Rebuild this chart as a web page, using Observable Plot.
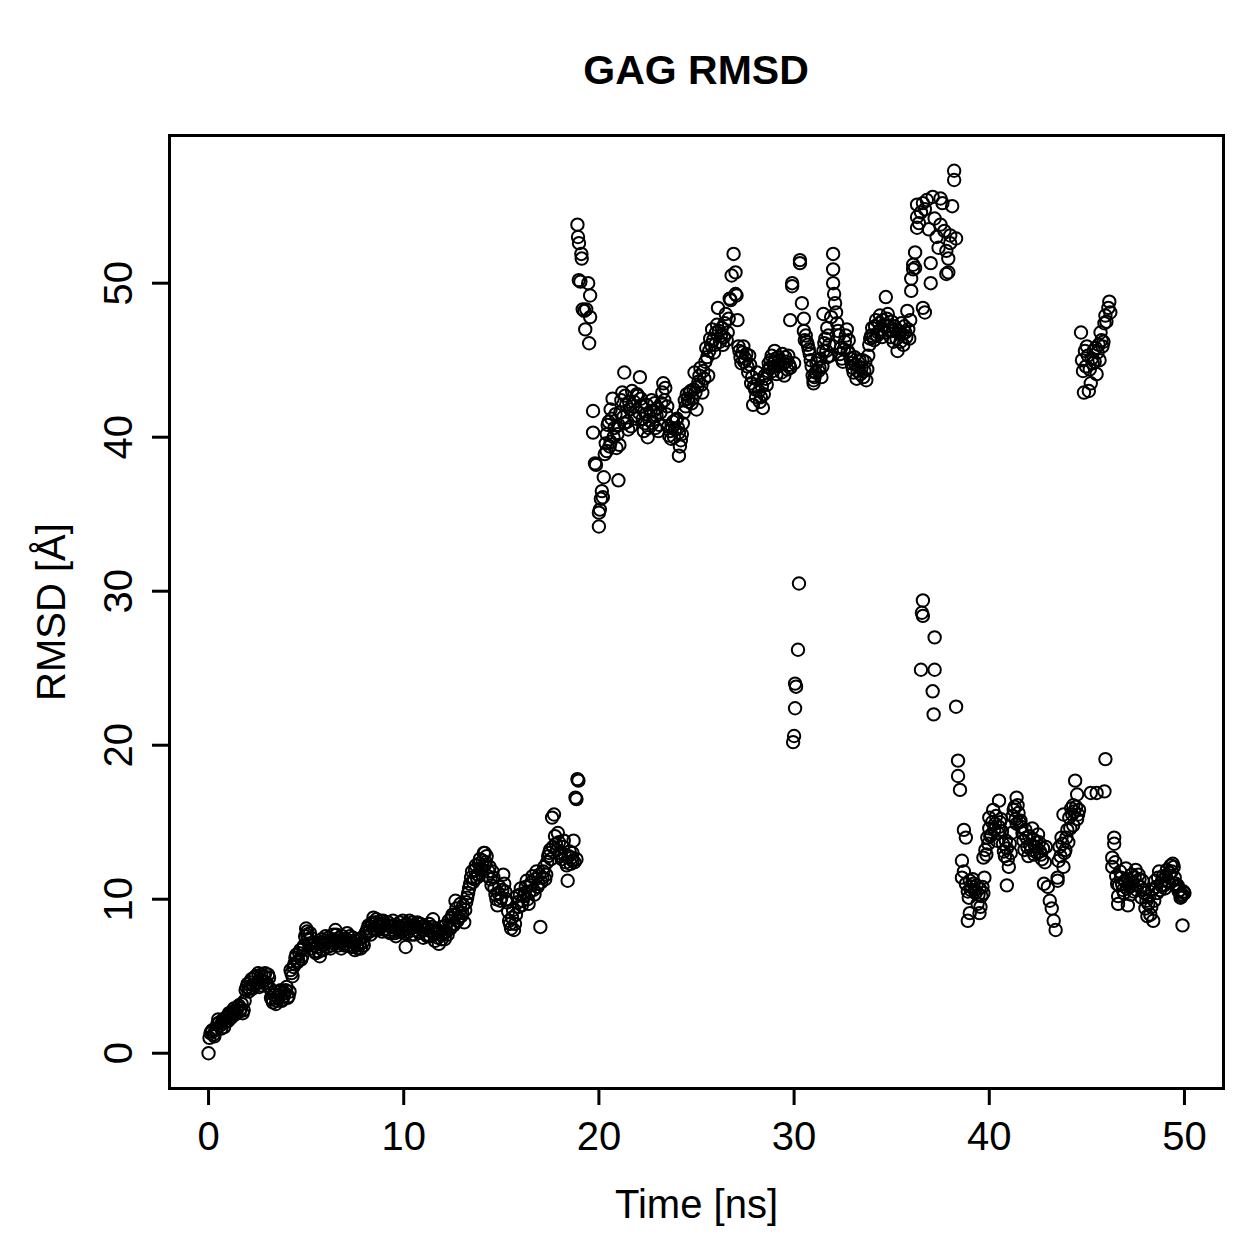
<!DOCTYPE html>
<html>
<head>
<meta charset="utf-8">
<script src="https://cdn.jsdelivr.net/npm/d3@7"></script>
<script src="https://cdn.jsdelivr.net/npm/@observablehq/plot@0.6"></script>
<style>
  body { margin: 0; background: #fff; font-family: "Liberation Sans", Arial, Helvetica, sans-serif; }
  #wrap { position: relative; width: 1259px; height: 1259px; }
  #head { position: relative; height: 120px; }
  #title { position: absolute; left: 169px; width: 1054px; top: 50px; text-align: center;
           font-weight: bold; font-size: 41px; line-height: 41px; color: #000; }
</style>
</head>
<body>
<div id="wrap">
  <div id="head"><div id="title">GAG RMSD</div></div>
  <div id="chart"></div>
</div>
<script>
// Axis ticks
const xTicks = [0, 10, 20, 30, 40, 50];
const yTicks = [0, 10, 20, 30, 40, 50];

// [time (ns), RMSD (Å)] — bound state, first 19 ns
const lowEarly = [
  [0.0,0.0],[0.1,1.3],[0.2,1.5],[0.3,1.1],[0.4,1.6],[0.5,2.2],[0.6,1.8],[0.7,2.0],[0.8,1.7],[0.9,2.3],
  [1.0,2.1],[1.1,2.5],[1.2,2.4],[1.3,2.9],[1.4,2.6],[1.5,3.0],[1.6,2.7],[1.7,3.2],[1.8,2.8],[1.9,4.1],
  [2.0,4.5],[2.1,4.2],[2.2,4.8],[2.3,4.4],[2.4,5.0],[2.5,4.6],[2.6,4.3],[2.7,5.1],[2.8,4.7],[2.9,5.2],
  [3.0,4.4],[3.1,4.9],[3.2,3.6],[3.3,3.3],[3.4,4.0],[3.5,3.4],[3.6,3.8],[3.7,4.1],[3.8,3.5],[3.9,3.9],
  [4.0,4.3],[4.1,3.7],[4.2,5.4],[4.3,5.0],[4.4,5.8],[4.5,6.4],[4.6,6.0],[4.7,6.7],[4.8,6.3],[4.9,7.0],
  [5.0,8.1],[5.1,7.4],[5.2,7.8],[5.3,6.8],[5.4,7.2],[5.5,6.5],[5.6,7.1],[5.7,6.3],[5.8,7.4],[5.9,7.0],
  [6.0,7.6],[6.1,6.9],[6.2,7.3],[6.3,7.0],[6.4,7.7],[6.5,8.0],[6.6,7.2],[6.7,7.5],[6.8,6.8],[6.9,7.4],
  [7.0,7.1],[7.1,7.8],[7.2,7.3],[7.3,6.9],[7.4,7.5],[7.5,6.7],[7.6,7.0],[7.7,7.4],[7.8,6.8],[7.9,7.2],
  [8.0,7.6],[8.1,7.9],[8.2,8.3],[8.3,7.7],[8.4,8.5],[8.5,8.0],[8.6,8.7],[8.7,8.2],[8.8,8.6],[8.9,7.9],
  [9.0,8.4],[9.1,8.1],[9.2,8.5],[9.3,7.8],[9.4,8.3],[9.5,8.0],[9.6,7.6],[9.7,8.2],[9.8,8.5],[9.9,7.9],
  [10.0,8.3],[10.1,6.9],[10.2,8.1],[10.3,8.6],[10.4,7.7],[10.5,8.3],[10.6,8.0],[10.7,8.5],[10.8,7.8],[10.9,8.2],
  [11.0,7.5],[11.1,8.0],[11.2,7.6],[11.3,8.4],[11.4,7.9],[11.5,8.7],[11.6,7.3],[11.7,7.9],[11.8,7.1],[11.9,7.7],
  [12.0,8.2],[12.1,7.4],[12.2,7.9],[12.3,8.6],[12.4,8.1],[12.5,9.0],[12.6,8.4],[12.7,9.4],[12.8,8.8],[12.9,9.7],
  [13.0,9.1],[13.1,8.5],[13.2,9.8],[13.3,10.4],[13.4,11.0],[13.5,11.8],[13.6,11.3],[13.7,12.2],[13.8,11.6],[13.9,12.6],
  [14.0,11.9],[14.1,13.0],[14.2,12.4],[14.3,11.5],[14.4,12.1],[14.5,10.9],[14.6,11.4],[14.7,10.3],[14.8,9.6],[14.9,10.8],
  [15.0,10.1],[15.1,11.6],[15.2,10.5],[15.3,9.8],[15.4,8.6],[15.5,8.1],[15.6,9.3],[15.7,8.4],[15.8,10.2],[15.9,9.5],
  [16.0,10.7],[16.1,9.9],[16.2,10.4],[16.3,11.2],[16.4,9.7],[16.5,10.9],[16.6,11.5],[16.7,10.3],[16.8,11.8],[16.9,11.0],
  [17.0,8.2],[17.1,11.4],[17.2,12.1],[17.3,11.6],[17.4,12.8],[17.5,13.2],[17.6,15.3],[17.7,15.5],[17.8,13.6],[17.9,14.3],
  [18.0,13.0],[18.1,12.6],[18.2,13.8],[18.3,12.4],[18.4,11.2],[18.5,13.1],[18.6,12.7],[18.7,13.8],[18.8,16.6],[18.9,17.8],
  [18.85,16.5],[18.95,17.7],[18.75,12.4],[18.65,12.5],[14.15,13.0],[5.05,7.9],[8.45,8.8],[12.65,9.9]
];

// Interleaved frames of the bound state, first 19 ns
const lowEarlyB = [
  [0.05,1.0],[0.15,1.4],[0.25,1.2],[0.35,1.5],[0.45,1.9],[0.55,2.0],[0.65,1.6],[0.75,2.2],[0.85,2.0],[0.95,2.4],
  [1.05,2.6],[1.15,2.3],[1.25,2.7],[1.35,2.5],[1.45,2.8],[1.55,3.1],[1.65,2.9],[1.75,2.6],[1.85,3.4],[1.95,4.3],
  [2.05,4.0],[2.15,4.6],[2.25,4.2],[2.35,4.9],[2.45,4.5],[2.55,5.2],[2.65,4.8],[2.75,4.4],[2.85,5.0],[2.95,4.6],
  [3.05,5.1],[3.15,4.2],[3.25,3.5],[3.35,3.8],[3.45,3.2],[3.55,3.6],[3.65,4.0],[3.75,3.4],[3.85,3.7],[3.95,4.1],
  [4.05,3.6],[4.15,4.0],[4.25,5.2],[4.35,5.6],[4.45,6.2],[4.55,5.9],[4.65,6.5],[4.75,6.1],[4.85,6.8],[4.95,7.6],
  [5.05,7.7],[5.15,7.1],[5.25,7.5],[5.35,7.0],[5.45,6.6],[5.55,6.9],[5.65,6.6],[5.75,7.2],[5.85,6.7],[5.95,7.3],
  [6.05,7.2],[6.15,7.5],[6.25,6.8],[6.35,7.4],[6.45,7.1],[6.55,7.7],[6.65,7.0],[6.75,7.3],[6.85,7.6],[6.95,7.0],
  [7.05,7.4],[7.15,7.0],[7.25,7.6],[7.35,7.2],[7.45,6.9],[7.55,7.3],[7.65,6.8],[7.75,7.1],[7.85,7.5],[7.95,7.0],
  [8.05,7.8],[8.15,8.1],[8.25,7.9],[8.35,8.4],[8.45,8.1],[8.55,8.5],[8.65,8.0],[8.75,8.4],[8.85,8.2],[8.95,8.6],
  [9.05,8.0],[9.15,8.3],[9.25,7.9],[9.35,8.2],[9.45,8.6],[9.55,7.8],[9.65,8.1],[9.75,7.9],[9.85,8.2],[9.95,8.6],
  [10.05,7.8],[10.15,8.4],[10.25,7.9],[10.35,8.2],[10.45,8.5],[10.55,7.7],[10.65,8.2],[10.75,7.9],[10.85,8.4],[10.95,8.0],
  [11.05,8.3],[11.15,7.7],[11.25,8.1],[11.35,7.6],[11.45,8.2],[11.55,7.8],[11.65,8.1],[11.75,7.5],[11.85,7.9],[11.95,7.4],
  [12.05,7.8],[12.15,8.3],[12.25,7.7],[12.35,8.2],[12.45,8.8],[12.55,8.3],[12.65,9.0],[12.75,8.6],[12.85,9.2],[12.95,8.9],
  [13.05,9.6],[13.15,9.3],[13.25,10.1],[13.35,10.7],[13.45,11.4],[13.55,11.1],[13.65,11.9],[13.75,11.4],[13.85,12.3],[13.95,12.0],
  [14.05,12.5],[14.15,12.2],[14.25,12.8],[14.35,11.8],[14.45,11.3],[14.55,11.8],[14.65,10.7],[14.75,10.0],[14.85,10.4],[14.95,9.9],
  [15.05,10.6],[15.15,11.0],[15.25,10.0],[15.35,9.2],[15.45,8.4],[15.55,8.8],[15.65,8.0],[15.75,9.0],[15.85,9.8],[15.95,10.3],
  [16.05,9.6],[16.15,10.2],[16.25,10.8],[16.35,10.0],[16.45,10.5],[16.55,11.1],[16.65,10.6],[16.75,11.3],[16.85,10.8],[16.95,11.6],
  [17.05,11.1],[17.15,11.8],[17.25,11.3],[17.35,12.4],[17.45,13.0],[17.55,12.6],[17.65,13.4],[17.75,14.1],[17.85,13.2],[17.95,13.7],
  [18.05,12.8],[18.15,13.4],[18.25,12.9],[18.35,12.2],[18.45,12.8],[18.55,12.3],[18.65,13.0],[18.85,12.6]
];

// Dissociated state, 19–38.3 ns
const highMid = [
  [18.9,53.8],[18.93,53.0],[18.98,52.6],[19.1,51.9],[19.12,51.6],[18.97,50.2],[19.05,50.1],[19.45,50.0],
  [19.55,49.2],[19.17,48.3],[19.25,48.2],[19.35,48.3],[19.55,47.8],[19.3,47.0],[19.5,46.1],
  [19.7,41.7],[19.7,40.3],[19.8,38.3],[19.85,38.2],[20.15,36.5],[20.2,36.1],[20.05,35.3],[20.0,34.2],
  [20.1,36.0],[20.25,37.4],[20.0,35.1],
  [20.3,38.9],[20.4,40.2],[20.4,39.1],[20.5,41.0],[20.6,41.8],[20.6,39.7],[20.7,42.5],[20.8,40.6],[20.9,39.3],
  [21.0,37.2],[21.0,40.8],[21.1,41.6],[21.2,42.9],[21.3,44.2],[21.3,40.9],[21.4,42.1],[21.5,40.5],[21.6,41.8],
  [21.7,43.0],[21.8,42.3],[21.9,41.2],[22.0,42.7],[22.1,43.9],[22.2,42.0],[22.3,40.4],[22.4,41.5],[22.5,40.0],
  [22.6,41.1],[22.7,42.4],[22.8,41.7],[22.9,40.6],[23.0,41.9],[23.1,40.8],[23.2,42.2],[23.3,43.5],[23.4,43.2],
  [23.5,42.0],[23.6,40.1],[23.7,39.9],[23.8,41.0],[23.9,40.5],[24.0,41.2],[24.1,38.8],[24.1,40.3],[24.2,39.8],
  [24.3,40.9],[24.4,42.4],[24.5,42.8],[24.6,42.3],[24.7,43.0],[24.8,42.5],[24.9,44.2],[25.0,41.8],[25.1,43.6],
  [25.2,44.5],[25.3,42.9],[25.4,43.8],[25.5,45.8],[25.6,44.0],[25.7,46.4],[25.8,47.0],[25.9,45.5],[26.0,46.8],
  [26.1,48.4],[26.2,46.2],[26.3,47.1],[26.4,46.5],[26.5,48.0],[26.6,46.8],[26.7,49.0],[26.8,50.5],[26.9,51.9],
  [27.0,49.3],[27.0,50.7],[27.1,47.6],[27.2,45.6],[27.3,44.8],[27.4,45.9],[27.5,45.1],[27.6,44.6],[27.7,45.3],
  [27.8,43.5],[27.9,42.1],[28.0,43.1],[28.1,44.2],[28.2,43.0],[28.3,42.6],[28.4,41.9],[28.5,44.0],[28.6,43.4],
  [28.7,44.8],[28.8,45.0],[28.9,44.3],[29.0,45.6],[29.0,44.6],[29.1,44.1],[29.2,45.2],[29.3,44.7],[29.4,45.4],
  [29.5,44.0],[29.6,44.9],[29.7,45.3],[29.8,47.6],[29.8,44.5],[29.9,49.8],[29.9,50.0],[30.0,44.8],
  [30.3,51.5],[30.3,51.3],[30.4,48.7],[30.5,47.7],[30.5,46.9],[30.6,46.6],[30.7,46.0],[30.8,45.4],[30.9,44.6],
  [31.0,43.7],[31.0,43.5],[31.1,44.2],[31.2,45.0],[31.3,44.5],[31.4,43.9],[31.5,45.6],[31.5,48.0],[31.6,46.4],
  [31.7,47.1],[31.7,45.2],[31.8,46.0],[31.9,47.8],[32.0,51.9],[32.0,50.9],[32.0,50.0],[32.05,49.3],[32.1,48.7],
  [32.2,47.4],[32.3,46.6],[32.4,45.8],[32.5,44.9],[32.6,46.2],[32.7,47.0],[32.8,46.3],[32.9,45.1],[33.0,44.5],
  [33.1,45.2],[33.2,43.8],[33.3,44.6],[33.4,44.1],[33.5,45.0],[33.6,44.3],[33.7,43.7],[33.8,45.3],[33.9,46.4],
  [34.0,47.1],[34.1,46.3],[34.2,47.6],[34.3,46.8],[34.4,47.9],[34.5,46.5],[34.6,47.3],[34.7,49.1],[34.8,48.0],
  [34.9,46.9],[35.0,47.5],[35.1,46.2],[35.2,47.0],[35.3,45.6],[35.4,46.7],[35.5,47.4],[35.6,46.0],[35.7,46.8],
  [35.8,48.2],[35.9,46.4],[36.0,49.5],[36.0,50.3],[36.1,50.9],[36.1,51.2],[36.2,52.0],[36.2,51.0],
  [36.3,54.3],[36.3,55.1],[36.3,53.6],[36.4,53.9],[36.5,54.6],[36.6,48.4],[36.6,55.2],[36.7,48.1],[36.7,54.8],
  [36.8,55.4],[36.9,53.5],[37.0,51.3],[37.0,50.0],[37.1,55.6],[37.2,54.2],[37.3,53.0],[37.4,52.3],[37.5,55.5],
  [37.5,53.8],[37.6,55.2],[37.7,53.4],[37.8,52.1],[37.8,50.6],[37.9,51.6],[37.9,50.7],[38.0,52.6],[38.0,53.1],
  [38.1,55.0],[38.2,57.3],[38.2,56.7],[38.3,52.9]
];

// Interleaved frames of the dissociated state
const highMidB = [
  [20.35,39.6],[20.45,40.8],[20.55,39.4],[20.65,41.2],[20.75,40.0],[20.85,41.5],[20.95,40.2],[21.05,39.5],[21.15,42.4],
  [21.25,41.3],[21.35,42.7],[21.45,41.0],[21.55,42.3],[21.65,40.7],[21.75,42.0],[21.85,41.4],[21.95,42.8],[22.05,41.6],
  [22.15,42.5],[22.25,41.2],[22.35,40.9],[22.45,42.1],[22.55,40.6],[22.65,41.7],[22.75,40.9],[22.85,42.2],[22.95,41.4],
  [23.05,40.4],[23.15,41.6],[23.25,42.9],[23.35,42.4],[23.45,41.5],[23.55,40.7],[23.65,40.4],[23.75,40.6],[23.85,40.0],
  [23.95,41.1],[24.05,40.6],[24.15,39.4],[24.25,40.2],[24.35,41.6],[24.45,42.0],[24.55,42.5],[24.65,42.9],[24.75,42.2],
  [24.85,43.1],[24.95,42.9],[25.05,43.3],[25.15,44.0],[25.25,43.4],[25.35,44.3],[25.45,44.9],[25.55,45.2],[25.65,45.6],
  [25.75,46.0],[25.85,46.3],[25.95,46.0],[26.05,47.3],[26.15,46.9],[26.25,46.6],[26.35,46.0],[26.45,47.4],[26.55,46.3],
  [26.65,47.7],[26.75,48.9],[27.05,49.2],[27.15,45.9],[27.25,45.2],[27.35,45.5],[27.45,44.9],[27.55,45.4],[27.65,44.2],
  [27.75,44.7],[27.85,43.9],[27.95,43.3],[28.05,42.6],[28.15,43.7],[28.25,42.3],[28.35,43.3],[28.45,42.8],[28.55,43.8],
  [28.65,44.3],[28.75,44.5],[28.85,45.3],[28.95,44.8],[29.05,45.1],[29.15,44.6],[29.25,45.0],[29.35,44.2],[29.45,44.8],
  [29.55,45.2],[29.65,44.4],[29.75,44.7],
  [30.55,46.3],[30.65,46.2],[30.75,45.7],[30.85,45.0],[30.95,44.0],[31.05,43.9],[31.15,44.8],[31.25,44.3],[31.35,45.1],
  [31.45,44.6],[31.55,46.1],[31.65,45.6],[31.75,46.6],[31.85,45.3],[32.15,48.1],[32.25,46.9],[32.35,45.4],[32.45,45.1],
  [32.55,45.7],[32.65,46.6],[32.75,45.6],[32.85,45.4],[32.95,44.8],[33.05,44.2],[33.15,44.7],[33.25,44.3],[33.35,45.0],
  [33.45,44.5],[33.55,43.9],[33.65,44.9],[33.75,44.4],[33.85,46.0],[33.95,46.6],[34.05,46.5],[34.15,47.2],[34.25,46.6],
  [34.35,47.4],[34.45,47.0],[34.55,47.6],[34.65,46.8],[34.75,47.7],[34.85,47.2],[34.95,46.5],[35.05,46.9],[35.15,47.2],
  [35.25,46.4],[35.35,46.9],[35.45,46.2],[35.55,46.7],[35.65,47.2],[35.75,46.5],[35.85,47.0],[35.95,47.6]
];

// Intermediate excursions
const transitions = [
  [30.0,20.6],[29.95,20.2],[30.05,22.4],[30.05,24.0],[30.1,23.8],[30.2,26.2],[30.25,30.5],
  [36.6,29.4],[36.55,28.6],[36.6,28.4],[37.2,27.0],[36.5,24.9],[37.2,24.9],[37.1,23.5],[37.15,22.0],[38.3,22.5]
];

// Rebound state, 38.4–50 ns
const lowLate = [
  [38.4,19.0],[38.4,18.0],[38.5,17.1],[38.6,12.5],[38.6,11.4],[38.7,14.5],[38.7,11.8],[38.8,14.0],[38.8,11.0],
  [38.9,10.5],[38.9,8.6],[39.0,11.2],[39.0,9.1],[39.1,10.8],[39.2,11.0],[39.3,10.4],[39.4,9.7],[39.5,9.1],
  [39.5,10.7],[39.6,10.2],[39.7,12.7],[39.7,10.4],[39.8,13.2],[39.9,14.0],[40.0,14.6],[40.0,15.3],[40.1,14.2],
  [40.2,15.8],[40.3,14.9],[40.4,13.8],[40.5,16.4],[40.5,14.7],[40.6,15.2],[40.7,13.6],[40.8,12.8],[40.9,10.9],
  [40.9,13.3],[41.0,12.1],[41.1,13.0],[41.2,15.4],[41.3,16.0],[41.4,16.6],[41.4,14.9],[41.5,15.6],[41.6,15.1],
  [41.7,14.3],[41.8,13.2],[41.9,14.0],[42.0,12.8],[42.1,13.5],[42.2,14.6],[42.3,12.9],[42.4,13.7],[42.5,14.2],
  [42.6,13.1],[42.7,12.6],[42.8,11.0],[42.9,13.4],[43.0,10.8],[43.1,9.9],[43.2,9.4],[43.3,8.6],[43.4,8.0],
  [43.5,11.4],[43.5,11.2],[43.6,13.4],[43.7,14.0],[43.8,15.5],[43.8,12.1],[43.9,13.2],[44.0,14.5],[44.1,15.3],
  [44.2,15.9],[44.3,16.1],[44.3,14.8],[44.4,17.7],[44.5,16.8],[44.5,15.2],[44.6,15.8],
  [45.2,16.9],[45.5,16.9],[45.9,17.0],[45.95,19.1],
  [46.3,12.7],[46.3,12.1],[46.4,14.0],[46.4,13.6],[46.5,11.5],[46.6,10.2],[46.6,9.7],[46.7,11.8],[46.8,11.0],
  [46.9,10.4],[47.0,12.0],[47.1,9.6],[47.1,11.3],[47.2,10.8],[47.3,11.6],[47.4,10.5],[47.5,11.9],[47.6,10.9],
  [47.7,11.3],[47.8,10.1],[47.9,10.6],[48.0,9.4],[48.1,8.9],[48.2,10.2],[48.3,9.5],[48.4,8.6],[48.5,11.2],
  [48.6,10.4],[48.7,11.8],[48.8,10.9],[48.9,11.5],[49.0,10.7],[49.1,11.9],[49.2,11.1],[49.3,12.2],[49.4,12.3],
  [49.5,11.4],[49.6,10.8],[49.7,10.5],[49.8,10.1],[49.9,8.3],[49.9,10.3],[50.0,10.4]
];

// Interleaved frames of the rebound state
const lowLateB = [
  [38.95,10.1],[39.05,10.6],[39.15,11.3],[39.25,10.6],[39.35,10.9],[39.45,10.3],[39.55,9.5],[39.65,10.8],[39.75,11.4],
  [39.85,12.9],[39.95,13.6],[40.05,14.1],[40.15,15.0],[40.25,14.5],[40.35,15.4],[40.45,14.3],[40.55,15.0],[40.65,14.4],
  [40.75,13.1],[40.85,13.8],[40.95,12.6],[41.05,13.6],[41.15,14.3],[41.25,15.8],[41.35,15.2],[41.45,16.1],[41.55,15.0],
  [41.65,14.7],[41.75,13.8],[41.85,14.5],[41.95,13.4],[42.05,14.1],[42.15,13.2],[42.25,13.9],[42.35,13.4],[42.45,13.0],
  [42.55,13.7],[42.65,12.9],[42.75,13.3],[42.85,12.4],[43.55,12.5],[43.65,12.8],[43.75,13.6],[43.85,13.0],[43.95,14.0],
  [44.05,13.7],[44.15,14.6],[44.25,15.5],[44.35,15.7],[44.45,16.0],[44.55,15.5],
  [46.45,12.4],[46.55,11.0],[46.65,10.9],[46.75,11.4],[46.85,10.6],[46.95,11.2],[47.05,10.7],[47.15,11.0],[47.25,10.3],
  [47.35,11.1],[47.45,11.4],[47.55,10.6],[47.65,11.6],[47.75,10.8],[47.85,11.2],[47.95,10.4],[48.05,9.9],[48.15,9.7],
  [48.25,9.0],[48.35,10.6],[48.45,9.9],[48.55,10.8],[48.65,11.4],[48.75,10.6],[48.85,11.2],[48.95,10.9],[49.05,11.5],
  [49.15,11.2],[49.25,11.7],[49.35,11.8],[49.45,12.1],[49.55,11.0],[49.65,10.9],[49.75,10.6],[49.85,10.2],[49.95,10.5]
];

// Brief dissociation, 44.7–46.2 ns
const highLate = [
  [44.7,46.8],[44.75,45.0],[44.8,44.3],[44.85,42.9],[44.9,45.6],[44.95,44.6],[45.0,45.9],[45.05,45.3],
  [45.1,43.0],[45.15,44.4],[45.2,43.5],[45.25,45.1],[45.3,44.8],[45.35,45.6],[45.4,44.9],[45.45,45.8],
  [45.5,44.1],[45.55,45.5],[45.6,46.0],[45.65,45.0],[45.7,46.8],[45.75,46.3],[45.8,45.9],[45.85,46.2],
  [45.9,47.4],[45.95,47.9],[46.0,47.5],[46.1,48.4],[46.15,48.8],[46.2,48.1]
];

const points = [...lowEarly, ...lowEarlyB, ...highMid, ...highMidB, ...transitions,
                ...lowLate, ...lowLateB, ...highLate]
  .map(([t, v]) => ({t, v}));

const chart = Plot.plot({
  width: 1259,
  height: 1139,
  marginLeft: 169,
  marginRight: 36,
  marginTop: 15,
  marginBottom: 171,
  style: {fontFamily: "'Liberation Sans', Arial, Helvetica, sans-serif", fontSize: "40px", color: "#000", background: "#fff"},
  x: {domain: [-2, 52]},
  y: {domain: [-2.29, 59.59]},
  marks: [
    Plot.dot(points, {x: "t", y: "v", r: 6.2, stroke: "#000", strokeWidth: 2, fill: "none"}),
    Plot.frame({stroke: "#000", strokeWidth: 3}),
    Plot.axisX(xTicks, {tickSize: 17, strokeWidth: 3, tickFormat: () => "", label: null}),
    Plot.axisY(yTicks, {tickSize: 17, strokeWidth: 3, tickFormat: () => "", label: null}),
    Plot.text(xTicks, {x: d => d, text: d => String(d), frameAnchor: "bottom", dy: 61, lineAnchor: "bottom", textAnchor: "middle", fontSize: 40}),
    Plot.text(yTicks, {y: d => d, text: d => String(d), frameAnchor: "left", dx: -38, rotate: -90, lineAnchor: "bottom", textAnchor: "middle", fontSize: 40}),
    Plot.text(["Time [ns]"], {text: d => d, frameAnchor: "bottom", dy: 129, lineAnchor: "bottom", textAnchor: "middle", fontSize: 40}),
    Plot.text(["RMSD [Å]"], {text: d => d, frameAnchor: "left", dx: -105, rotate: -90, lineAnchor: "bottom", textAnchor: "middle", fontSize: 40})
  ]
});
document.getElementById("chart").appendChild(chart);
</script>
</body>
</html>
